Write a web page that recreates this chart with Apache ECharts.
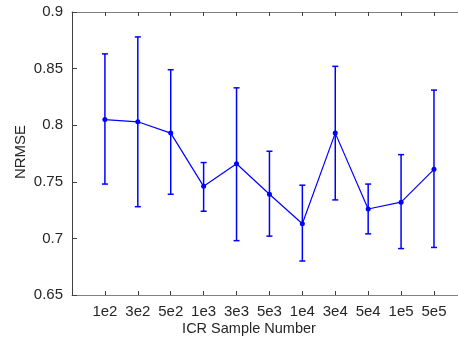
<!DOCTYPE html>
<html>
<head>
<meta charset="utf-8">
<script src="https://cdn.jsdelivr.net/npm/echarts@6/dist/echarts.min.js"></script>
<style>
  body { margin: 0; padding: 0; background: #fff; }
  #chart { width: 458px; height: 341px; }
</style>
</head>
<body>
<div id="chart"></div>
<script>
// sample sizes along x
var categories = ['1e2', '3e2', '5e2', '1e3', '3e3', '5e3', '1e4', '3e4', '5e4', '1e5', '5e5'];
// mean NRMSE per sample size
var meanValues = [0.805, 0.803, 0.793, 0.746, 0.766, 0.739, 0.713, 0.793, 0.726, 0.732, 0.761];
// error bar ends
var upperValues = [0.863, 0.878, 0.849, 0.767, 0.833, 0.777, 0.747, 0.852, 0.748, 0.774, 0.831];
var lowerValues = [0.748, 0.728, 0.739, 0.724, 0.698, 0.702, 0.680, 0.734, 0.704, 0.691, 0.692];
var yTicks = [0.65, 0.7, 0.75, 0.8, 0.85, 0.9];

var font = 'Liberation Sans, Arial, sans-serif';
var blue = '#0000ff';
var textColor = '#262626';

var lineData = meanValues.map(function (v, i) { return [i + 1, v]; });
var barData = categories.map(function (c, i) { return [i + 1, lowerValues[i], upperValues[i]]; });

var chart = echarts.init(document.getElementById('chart'));
chart.setOption({
  animation: false,
  backgroundColor: '#fff',
  grid: { left: 72, right: 0, top: 12, bottom: 46 },
  // axis titles placed by hand to match the original
  graphic: [
    {
      type: 'text', x: 249, y: 329,
      style: { text: 'ICR Sample Number', fontFamily: font, fontSize: 14.5, fill: textColor,
               textAlign: 'center', textVerticalAlign: 'middle' }
    },
    {
      type: 'text', x: 20.5, y: 152, rotation: Math.PI / 2,
      style: { text: 'NRMSE', fontFamily: font, fontSize: 15, fill: textColor,
               textAlign: 'center', textVerticalAlign: 'middle' }
    }
  ],
  xAxis: [
    {
      type: 'value', min: 0, max: 11.73, interval: 1, position: 'bottom',
      axisLine: { lineStyle: { color: '#808080', width: 1 } },
      axisTick: { inside: true, length: 4, lineStyle: { color: '#404040' } },
      axisLabel: {
        fontFamily: font, fontSize: 15, color: textColor, margin: 9,
        showMaxLabel: false,
        formatter: function (v) {
          var i = Math.round(v);
          return (Math.abs(v - i) < 1e-6 && i >= 1 && i <= categories.length) ? categories[i - 1] : '';
        }
      },
      splitLine: { show: false }
    },
    {
      type: 'value', min: 0, max: 11.73, interval: 1, position: 'top',
      axisLine: { lineStyle: { color: '#808080', width: 1 } },
      axisTick: { inside: true, length: 4, lineStyle: { color: '#404040' } },
      axisLabel: { show: false },
      splitLine: { show: false }
    }
  ],
  yAxis: {
    type: 'value', min: 0.65, max: 0.9, interval: 0.05,
    axisLine: { show: true, lineStyle: { color: '#404040', width: 1 } },
    axisTick: { show: true, inside: true, length: 5, lineStyle: { color: '#404040' } },
    axisLabel: {
      fontFamily: font, fontSize: 15, color: textColor, margin: 9,
      formatter: function (v) {
        var t = yTicks.find(function (y) { return Math.abs(y - v) < 1e-6; });
        return t === undefined ? '' : String(t);
      }
    },
    splitLine: { show: false }
  },
  series: [
    {
      type: 'custom',
      xAxisIndex: 0,
      data: barData,
      z: 2,
      renderItem: function (params, api) {
        var x = api.value(0);
        var lo = api.coord([x, api.value(1)]);
        var hi = api.coord([x, api.value(2)]);
        var cap = 3;
        var st = { stroke: blue, lineWidth: 1.5 };
        return {
          type: 'group',
          children: [
            { type: 'line', shape: { x1: lo[0], y1: lo[1], x2: hi[0], y2: hi[1] }, style: st },
            { type: 'line', shape: { x1: hi[0] - cap, y1: hi[1], x2: hi[0] + cap, y2: hi[1] }, style: st },
            { type: 'line', shape: { x1: lo[0] - cap, y1: lo[1], x2: lo[0] + cap, y2: lo[1] }, style: st }
          ]
        };
      }
    },
    {
      type: 'line',
      xAxisIndex: 0,
      data: lineData,
      z: 3,
      symbol: 'circle',
      symbolSize: 5,
      lineStyle: { color: blue, width: 1.2 },
      itemStyle: { color: blue }
    }
  ]
});
</script>
</body>
</html>
